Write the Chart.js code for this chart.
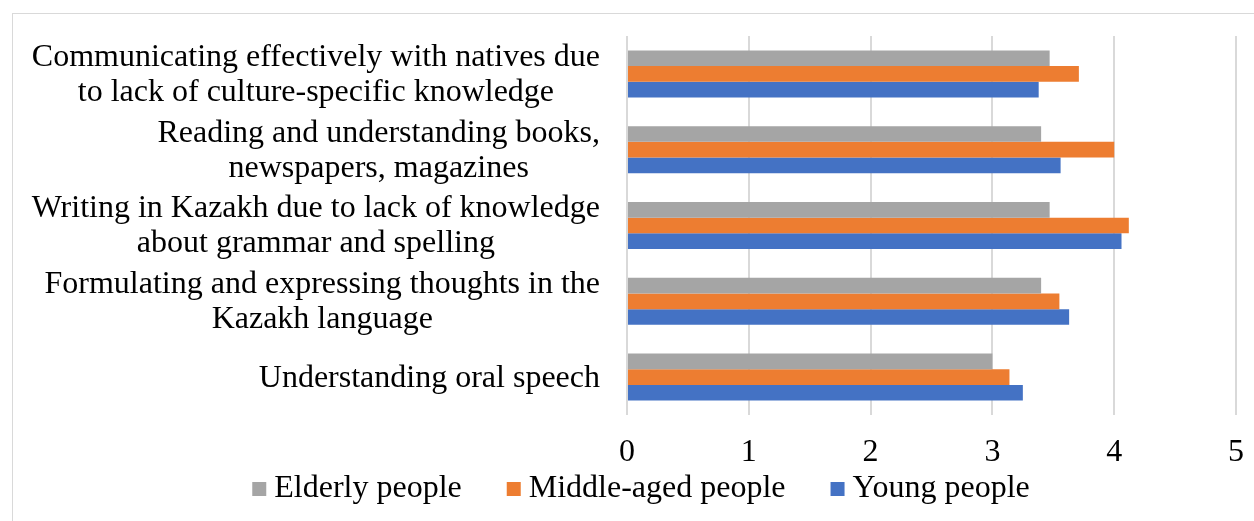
<!DOCTYPE html>
<html>
<head>
<meta charset="utf-8">
<script src="https://cdn.jsdelivr.net/npm/chart.js@4.4.0/dist/chart.umd.min.js"></script>
<style>
html,body{margin:0;padding:0;background:#fff;}
#wrap{position:relative;width:1254px;height:521px;}
#frame{position:absolute;left:12px;top:13px;width:1260px;height:540px;border-left:1px solid #d9d9d9;border-top:1px solid #d9d9d9;pointer-events:none;}
canvas{position:absolute;left:0;top:0;}
</style>
</head>
<body>
<div id="wrap">
<div id="frame"></div>
<canvas id="c" width="1254" height="521"></canvas>
</div>
<script>
const categories = [
  ["Communicating effectively with natives due", "to lack of culture-specific knowledge"],
  ["Reading and understanding books,", "newspapers, magazines"],
  ["Writing in Kazakh due to lack of knowledge", "about grammar and spelling"],
  ["Formulating and expressing thoughts in the", "Kazakh language"],
  ["Understanding oral speech"]
];
const seriesNames = ["Elderly people", "Middle-aged people", "Young people"];
const seriesColors = ["#a5a5a5", "#ed7d31", "#4472c4"];
const elderly = [3.47, 3.40, 3.47, 3.40, 3.00];
const middleAged = [3.71, 4.00, 4.12, 3.55, 3.14];
const young = [3.38, 3.56, 4.06, 3.63, 3.25];
const xTicks = [0, 1, 2, 3, 4, 5];

const FONT = "'Liberation Serif', 'Times New Roman', serif";
const FONT_SIZE = 32;
const LINE_H = 35;

// Draw category labels (right-aligned block, centred lines) and the legend.
const labelsAndLegend = {
  id: 'labelsAndLegend',
  afterDraw(chart) {
    const ctx = chart.ctx;
    const yScale = chart.scales.y;
    const area = chart.chartArea;
    ctx.save();
    ctx.font = FONT_SIZE + "px " + FONT;
    ctx.fillStyle = '#000';
    ctx.textBaseline = 'middle';
    ctx.textAlign = 'center';
    const rightEdge = area.left - 27;
    chart.data.labels.forEach((lab, i) => {
      const lines = Array.isArray(lab) ? lab : [lab];
      const w = Math.max(...lines.map(l => ctx.measureText(l).width));
      const cx = rightEdge - w / 2;
      const cy = yScale.getPixelForTick(i) + 1;
      lines.forEach((l, j) => {
        ctx.fillText(l, cx, cy + (j - (lines.length - 1) / 2) * LINE_H);
      });
    });
    // legend
    const box = 14, gap = 8, itemGap = 45;
    const items = chart.data.datasets.map(ds => ({
      text: ds.label, color: ds.backgroundColor, w: box + gap + ctx.measureText(ds.label).width
    }));
    const total = items.reduce((s, it) => s + it.w, 0) + itemGap * (items.length - 1);
    let x = 641 - total / 2;
    const ly = 489;
    ctx.textAlign = 'left';
    items.forEach(it => {
      ctx.fillStyle = it.color;
      ctx.fillRect(x, ly - box / 2, box, box);
      ctx.fillStyle = '#000';
      ctx.fillText(it.text, x + box + gap, ly);
      x += it.w + itemGap;
    });
    ctx.restore();
  }
};

new Chart(document.getElementById('c'), {
  type: 'bar',
  data: {
    labels: categories,
    datasets: [
      {label: seriesNames[0], data: elderly, backgroundColor: seriesColors[0]},
      {label: seriesNames[1], data: middleAged, backgroundColor: seriesColors[1]},
      {label: seriesNames[2], data: young, backgroundColor: seriesColors[2]}
    ]
  },
  options: {
    indexAxis: 'y',
    responsive: false,
    animation: false,
    devicePixelRatio: 1,
    layout: {padding: {top: 36, right: 18, bottom: 0, left: 0}},
    datasets: {bar: {categoryPercentage: 0.62, barPercentage: 1.0}},
    scales: {
      x: {
        min: 0, max: 5,
        afterBuildTicks: (s) => { s.ticks = xTicks.map(v => ({value: v})); },
        afterFit: (s) => { s.height = 106; s.paddingRight = 0; s.paddingLeft = 0; },
        grid: {color: '#d9d9d9', lineWidth: 2, drawTicks: false},
        border: {display: false},
        ticks: {padding: 18, color: '#000', font: {family: FONT, size: FONT_SIZE}}
      },
      y: {
        afterFit: (s) => { s.width = 627; },
        grid: {display: false, drawTicks: false},
        border: {display: false},
        ticks: {display: false}
      }
    },
    plugins: {
      legend: {display: false},
      tooltip: {enabled: false}
    }
  },
  plugins: [labelsAndLegend]
});
</script>
</body>
</html>
